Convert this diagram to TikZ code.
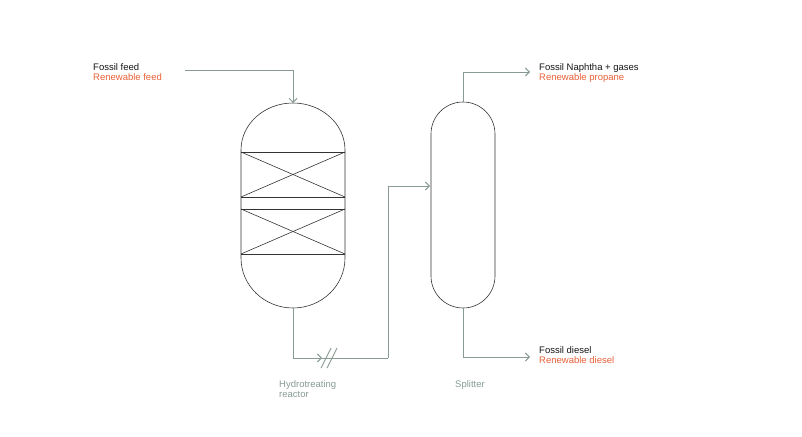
\documentclass[tikz,border=0pt]{standalone}
\usepackage{fontspec}
\setmainfont{Liberation Sans}
\usetikzlibrary{arrows.meta}
\definecolor{pipe}{RGB}{135,155,145}
\definecolor{renew}{RGB}{232,95,55}
\definecolor{fossil}{RGB}{20,20,20}
\tikzset{
  flow/.style={draw=pipe, line width=0.9pt, -{Straight Barb[length=4pt,width=8pt]}},
  vessel/.style={draw=black!80, line width=0.6pt},
  label/.style={font=\fontsize{9.5}{10.5}\selectfont, anchor=north west, inner sep=0pt, align=left},
  tag/.style={label, text=pipe}
}
\begin{document}
\begin{tikzpicture}[x=1pt,y=-1pt]
\useasboundingbox (0,0) rectangle (802,436);
% reactor
\draw [vessel] (241,150) arc [start angle=180, end angle=360, x radius=52, y radius=47]
  -- (345,258) arc [start angle=0, end angle=180, x radius=52, y radius=50] -- cycle ;
\foreach \yt/\yb in {152/197, 209/254} {
  \draw [vessel] (241,\yt) -- (345,\yt) ;
  \draw [vessel] (241,\yb) -- (345,\yb) ;
  \draw [vessel] (241,\yt) -- (345,\yb) ;
  \draw [vessel] (241,\yb) -- (345,\yt) ;
}
\coordinate (reactor top) at (293,103) ;
\coordinate (reactor bottom) at (293,308) ;
% splitter
\draw [vessel, rounded corners=32] (431,102) rectangle (495,308) ;
\coordinate (splitter top) at (463,102) ;
\coordinate (splitter bottom) at (463,308) ;
\coordinate (splitter in) at (430,186) ;
% texts
\node (feed) [label] at (93,63) {\textcolor{fossil}{Fossil feed}\\\textcolor{renew}{Renewable feed}} ;
\node (gases) [label] at (539,63) {\textcolor{fossil}{Fossil Naphtha + gases}\\\textcolor{renew}{Renewable propane}} ;
\node (diesel) [label] at (539,346) {\textcolor{fossil}{Fossil diesel}\\\textcolor{renew}{Renewable diesel}} ;
\node (reactor name) [tag] at (279,380) {Hydrotreating\\reactor} ;
\node (splitter name) [tag] at (455,380) {Splitter} ;
% flows
\coordinate (feed end) at (185,70) ;
\draw [flow] (feed end) -| (reactor top) ;
\coordinate (break) at (330,358) ;
\draw [flow] (reactor bottom) |- (322,358) ;
\draw [draw=pipe, line width=0.9pt] (322,358) -- (break) ;
\draw [draw=pipe, line width=0.9pt] (break) -- (388,358) ;
\draw [draw=pipe, line width=0.9pt] (321,368) -- (331,348) (327,368) -- (337,348) ;
\draw [flow] (388,358) |- (splitter in) ;
\draw [flow] (splitter top) |- (530,72) ;
\draw [flow] (splitter bottom) |- (530,357) ;
\end{tikzpicture}
\end{document}
